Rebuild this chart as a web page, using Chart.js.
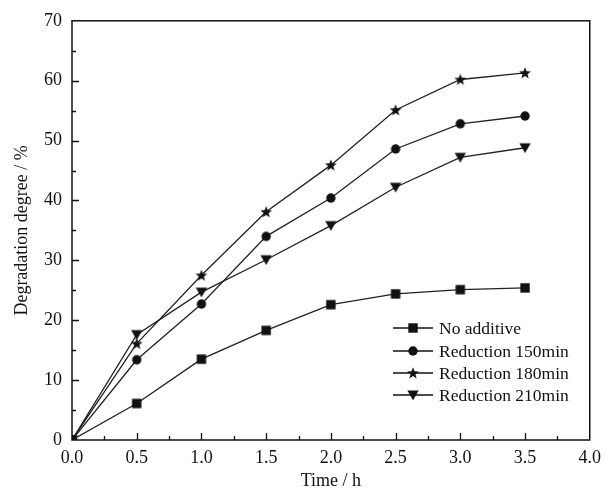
<!DOCTYPE html>
<html>
<head>
<meta charset="utf-8">
<script src="https://cdn.jsdelivr.net/npm/chart.js@4"></script>
<style>
  html, body { margin: 0; padding: 0; background: #fff; }
  #wrap { width: 608px; height: 492px; }
</style>
</head>
<body>
<div id="wrap"><canvas id="degChart" width="608" height="492"></canvas></div>
<script>
// time points (h)
const times = [0, 0.5, 1.0, 1.5, 2.0, 2.5, 3.0, 3.5];
// degradation degree (%)
const noAdditive = [0, 6.1, 13.5, 18.3, 22.6, 24.4, 25.1, 25.4];
const red150 = [0, 13.4, 22.7, 34.0, 40.4, 48.6, 52.8, 54.1];
const red180 = [0, 16.1, 27.5, 38.1, 45.9, 55.1, 60.2, 61.3];
const red210 = [0, 17.6, 24.7, 30.1, 35.8, 42.2, 47.2, 48.8];
const seriesNames = ['No additive', 'Reduction 150min', 'Reduction 180min', 'Reduction 210min'];

const FONT = "'Liberation Serif', 'Times New Roman', serif";
const INK = '#111';

// marker images
function marker(kind) {
  const c = document.createElement('canvas');
  c.width = 14; c.height = 14;
  const g = c.getContext('2d');
  g.fillStyle = INK;
  g.beginPath();
  if (kind === 'square') {
    g.rect(2.3, 2.3, 9.4, 9.4);
  } else if (kind === 'circle') {
    g.arc(7, 7, 4.7, 0, Math.PI * 2);
  } else if (kind === 'star') {
    for (let i = 0; i < 10; i++) {
      const r = i % 2 === 0 ? 6.2 : 2.6;
      const a = -Math.PI / 2 + i * Math.PI / 5;
      const px = 7 + r * Math.cos(a), py = 7.4 + r * Math.sin(a);
      if (i === 0) g.moveTo(px, py); else g.lineTo(px, py);
    }
    g.closePath();
  } else if (kind === 'tri') {
    g.moveTo(1.3, 2.6);
    g.lineTo(12.7, 2.6);
    g.lineTo(7, 12.2);
    g.closePath();
  }
  g.fill();
  return c;
}
const markers = [marker('square'), marker('circle'), marker('star'), marker('tri')];

function pts(vals) {
  return times.map((t, i) => ({ x: t, y: vals[i] }));
}

const allSeries = [noAdditive, red150, red180, red210];

const frameAndTicks = {
  id: 'frameAndTicks',
  afterDraw(chart) {
    const ctx = chart.ctx;
    const a = chart.chartArea;
    const xs = chart.scales.x, ys = chart.scales.y;
    ctx.save();
    ctx.strokeStyle = INK;
    ctx.lineWidth = 1.5;
    ctx.strokeRect(a.left, a.top, a.right - a.left, a.bottom - a.top);
    ctx.lineWidth = 1.3;
    ctx.beginPath();
    for (let v = 0.25; v < 4; v += 0.25) {
      const px = Math.round(xs.getPixelForValue(v)) + 0.5;
      const len = (Math.round(v * 4) % 2 === 0) ? 7 : 4;
      ctx.moveTo(px, a.bottom);
      ctx.lineTo(px, a.bottom - len);
    }
    for (let v = 5; v < 70; v += 5) {
      const py = Math.round(ys.getPixelForValue(v)) + 0.5;
      const len = (v % 10 === 0) ? 7 : 4;
      ctx.moveTo(a.left, py);
      ctx.lineTo(a.left + len, py);
    }
    ctx.stroke();

    // legend inside plot
    const lx = 393, rowY = [328, 351, 373, 395];
    ctx.font = '17.5px ' + FONT;
    ctx.textBaseline = 'middle';
    ctx.fillStyle = INK;
    ctx.lineWidth = 1.5;
    seriesNames.forEach((name, i) => {
      ctx.beginPath();
      ctx.moveTo(lx, rowY[i]);
      ctx.lineTo(lx + 40, rowY[i]);
      ctx.stroke();
      const m = markers[i];
      ctx.drawImage(m, lx + 20 - m.width / 2, rowY[i] - m.height / 2);
      ctx.fillText(name, lx + 46, rowY[i] + 1);
    });
    ctx.restore();
  }
};

new Chart(document.getElementById('degChart').getContext('2d'), {
  type: 'line',
  data: {
    datasets: allSeries.map((vals, i) => ({
      label: seriesNames[i],
      data: pts(vals),
      borderColor: '#222',
      borderWidth: 1.3,
      pointStyle: markers[i],
      pointRadius: 6,
      pointHoverRadius: 6,
      tension: 0,
      fill: false
    }))
  },
  options: {
    responsive: false,
    animation: false,
    layout: { padding: { left: 0, top: 20, right: 15, bottom: 0 } },
    plugins: {
      legend: { display: false },
      tooltip: { enabled: false }
    },
    scales: {
      x: {
        type: 'linear',
        min: 0,
        max: 4,
        afterFit(s) { s.height = 52; },
        grid: { display: false, drawTicks: false },
        border: { display: false },
        ticks: {
          stepSize: 0.5,
          padding: 7,
          color: INK,
          font: { family: FONT, size: 18 },
          callback: v => v.toFixed(1)
        },
        title: {
          display: true,
          text: 'Time / h',
          color: INK,
          font: { family: FONT, size: 18 },
          padding: { top: 0, bottom: 0 }
        }
      },
      y: {
        min: 0,
        max: 70,
        afterFit(s) { s.width = 72; },
        grid: { display: false, drawTicks: false },
        border: { display: false },
        ticks: {
          stepSize: 10,
          padding: 10,
          color: INK,
          font: { family: FONT, size: 18 }
        },
        title: {
          display: true,
          text: 'Degradation degree / %',
          color: INK,
          font: { family: FONT, size: 18 },
          padding: { top: 11, bottom: 0 }
        }
      }
    }
  },
  plugins: [frameAndTicks]
});
</script>
</body>
</html>
